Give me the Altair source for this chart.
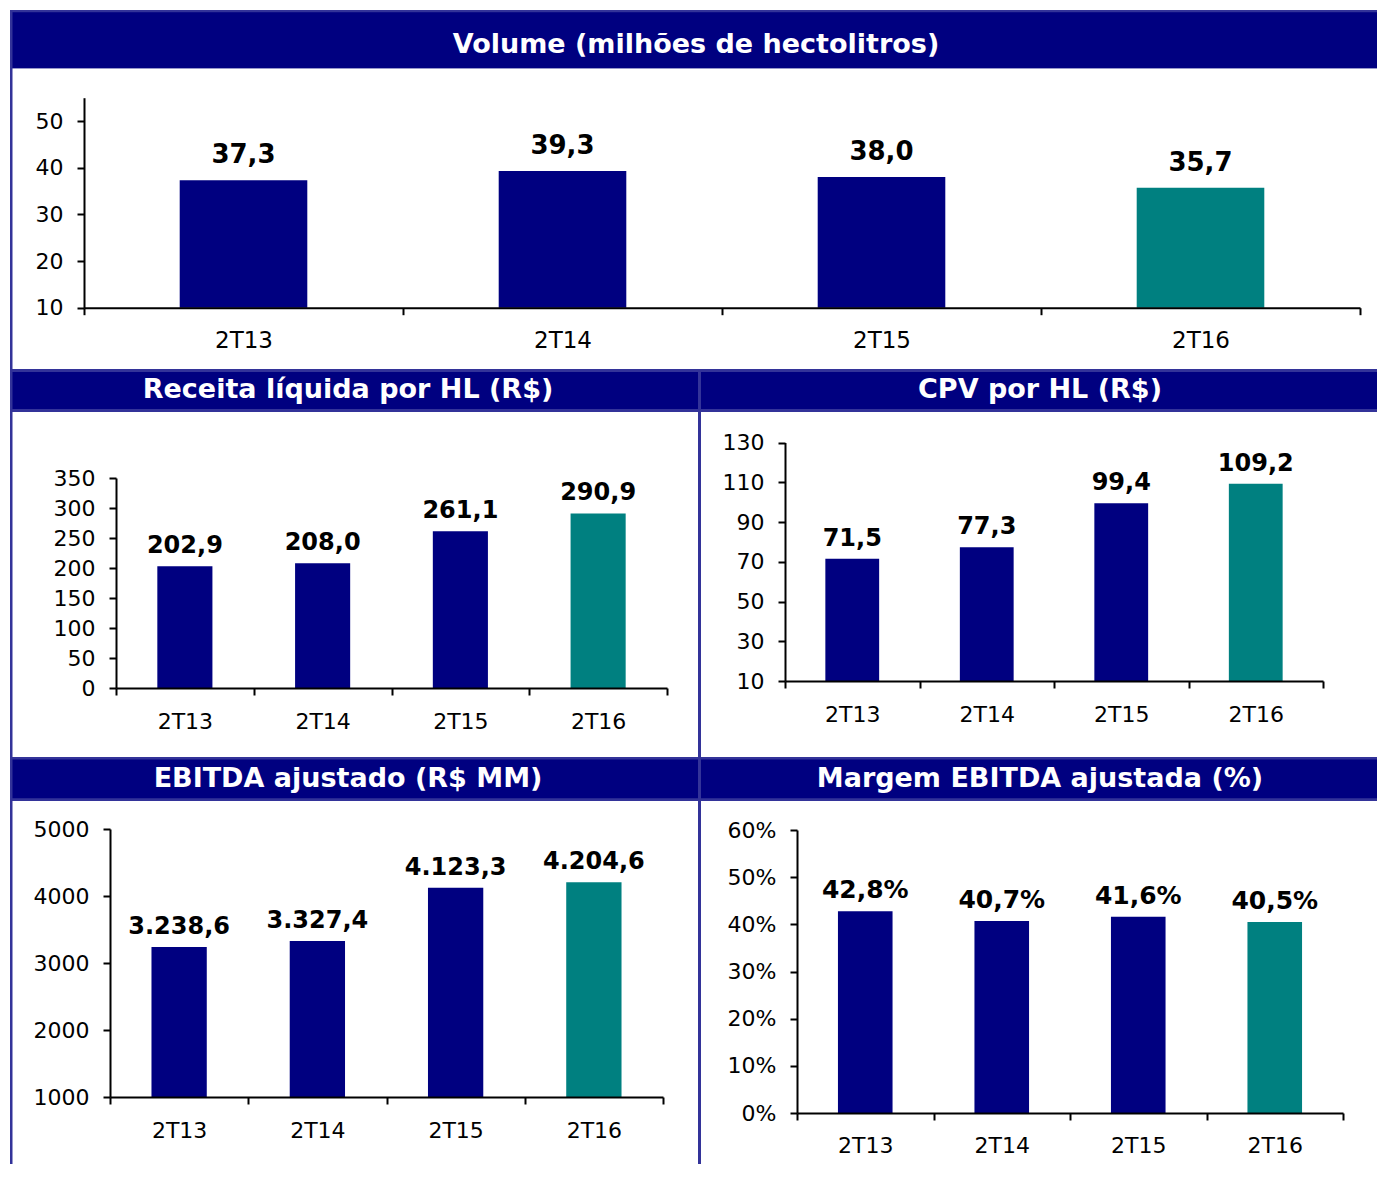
import altair as alt
import pandas as pd

categories = ["2T13", "2T14", "2T15", "2T16"]
volume = [37.3, 39.3, 38.0, 35.7]
receita = [202.9, 208.0, 261.1, 290.9]
cpv = [71.5, 77.3, 99.4, 109.2]
ebitda = [3238.6, 3327.4, 4123.3, 4204.6]
margem = [42.8, 40.7, 41.6, 40.5]
bar_colors = ["#000080", "#000080", "#000080", "#008080"]

titles = [
    "Volume (milhões de hectolitros)",
    "Receita líquida por HL (R$)",
    "CPV por HL (R$)",
    "EBITDA ajustado (R$ MM)",
    "Margem EBITDA ajustada (%)",
]

NAVY = "#000080"
STRIPE = "#333399"
FONT = "DejaVu Sans"


def br(v, suffix=""):
    return f"{v:,.1f}".replace(",", "#").replace(".", ",").replace("#", ".") + suffix


def panel(values, labels, title, W, H, hdr, border_w, xr, yr, ydom, yticks,
          label_expr, title_x, title_base, vfont, vdy, xpad, xfont=22):
    df = pd.DataFrame({"cat": categories, "val": values, "lbl": labels, "col": bar_colors})
    one = pd.DataFrame({"k": [0]})
    s0, n1, s1 = hdr
    layers = [
        alt.Chart(one).mark_rect(color=STRIPE).encode(
            x=alt.value(0), x2=alt.value(W), y=alt.value(0), y2=alt.value(s1)),
        alt.Chart(one).mark_rect(color=NAVY).encode(
            x=alt.value(0), x2=alt.value(W), y=alt.value(s0), y2=alt.value(n1)),
        alt.Chart(one).mark_text(text=title, font=FONT, fontSize=27, fontWeight="bold",
                                 color="white", align="center", baseline="alphabetic").encode(
            x=alt.value(title_x), y=alt.value(title_base)),
    ]
    x = alt.X("cat:N", sort=categories,
              scale=alt.Scale(range=list(xr), paddingInner=0, paddingOuter=0),
              axis=alt.Axis(title=None, orient="bottom", offset=yr[0] - H, tickBand="extent",
                            labelAngle=0, labelFont=FONT, labelFontSize=xfont, labelColor="black",
                            domainColor="black", domainWidth=2, tickColor="black", tickWidth=2,
                            tickSize=7, labelPadding=xpad, grid=False, zindex=1))
    y = alt.Y("val:Q",
              scale=alt.Scale(domain=list(ydom), range=[yr[0], yr[1]], nice=False, zero=False),
              axis=alt.Axis(title=None, orient="left", offset=-xr[0], values=yticks,
                            labelExpr=label_expr, labelFont=FONT, labelFontSize=22,
                            labelColor="black", domainColor="black", domainWidth=2,
                            tickColor="black", tickWidth=2, tickSize=7, labelPadding=14,
                            grid=False, zindex=1))
    base = alt.Chart(df).encode(x=x, y=y)
    bars = base.mark_bar(width=alt.RelativeBandSize(0.4)).encode(
        y2=alt.datum(ydom[0]), color=alt.Color("col:N", scale=None))
    text = base.mark_text(font=FONT, fontSize=vfont, fontWeight="bold", color="black",
                          baseline="alphabetic", align="center", dy=vdy).encode(text="lbl:N")
    layers += [bars, text]
    layers.append(alt.Chart(one).mark_rect(color=STRIPE).encode(
        x=alt.value(0), x2=alt.value(border_w), y=alt.value(0), y2=alt.value(H)))
    return alt.layer(*layers).properties(width=W, height=H)


p1 = panel(volume, [br(v) for v in volume], titles[0], 1367, 359, (2.3, 58.3, 58.3), 2.5,
           (74, 1350), (297.7, 87.7), (10, 55), [10, 20, 30, 40, 50],
           "datum.label", 686, 43, 26, -17, 15, 23)
p2 = panel(receita, [br(v) for v in receita], titles[1], 688, 388, (3, 40, 43), 2.5,
           (106, 657), (319, 109), (0, 350), [0, 50, 100, 150, 200, 250, 300, 350],
           "datum.label", 338, 29, 24, -13, 16)
p3 = panel(cpv, [br(v) for v in cpv], titles[2], 679, 388, (3, 40, 43), 3,
           (87, 625), (312, 73.5), (10, 130), [10, 30, 50, 70, 90, 110, 130],
           "datum.label", 342, 29, 24, -13, 16)
p4 = panel(ebitda, [br(v) for v in ebitda], titles[3], 688, 407, (2.5, 41.3, 44), 2.5,
           (100, 653), (340, 72), (1000, 5000), [1000, 2000, 3000, 4000, 5000],
           "replace(datum.label, ',', '')", 338, 30, 24, -13, 16)
p5 = panel(margem, [br(v, "%") for v in margem], titles[4], 679, 407, (2.5, 41.3, 44), 3,
           (99, 645), (356, 73), (0, 60), [0, 10, 20, 30, 40, 50, 60],
           "datum.label + '%'", 342, 30, 25, -13, 15)

chart = alt.vconcat(
    p1,
    alt.hconcat(p2, p3, spacing=0),
    alt.hconcat(p4, p5, spacing=0),
    spacing=0,
).properties(
    padding={"left": 2, "top": 2, "right": 0, "bottom": 0},
    background="white",
).configure_view(stroke=None).configure_concat(spacing=0)

chart.save("out.html", embed_options={"renderer": "svg", "actions": False})
